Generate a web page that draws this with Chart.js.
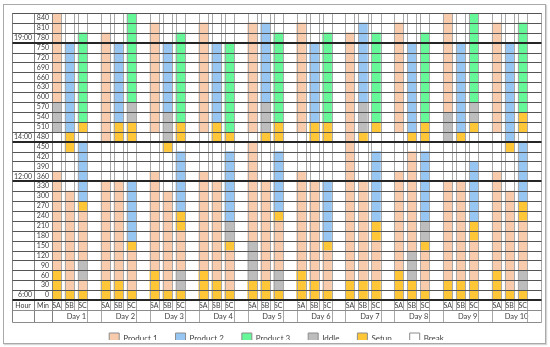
<!DOCTYPE html>
<html>
<head>
<meta charset="utf-8">
<script src="https://cdn.jsdelivr.net/npm/chart.js@4/dist/chart.umd.min.js"></script>
<style>
  html, body { margin: 0; padding: 0; background: #fff; overflow: hidden; }
  #wrap { position: relative; width: 550px; height: 347px; }
  #frame { position: absolute; left: 3px; top: 4px; width: 541px; height: 338px; border: 1px solid #a9a9a9; box-shadow: 1px 1px 1px #d6d6d6; }
  #gantt { position: absolute; left: 0; top: 0; }
</style>
</head>
<body>
<div id="wrap"><div id="frame"></div><canvas id="gantt" width="550" height="347"></canvas></div>
<script>
// categories
var days = ['Day 1', 'Day 2', 'Day 3', 'Day 4', 'Day 5', 'Day 6', 'Day 7', 'Day 8', 'Day 9', 'Day 10'];
var stations = ['SA', 'SB', 'SC'];

// row labels (minutes after 6:00) and hour marks
var rowStarts = [0, 30, 60, 90, 120, 150, 180, 210, 240, 270, 300, 330, 360, 390, 420, 450, 480, 510, 540, 570, 600, 630, 660, 690, 720, 750, 780, 810, 840];
var dayEnd = 870;
var slotMinutes = 30;
var hourMinutes = [0, 360, 480, 780];
var hourLabels = ['6:00', '12:00', '14:00', '19:00'];

// activities
var activityCodes = ['P', 'B', 'G', 'I', 'S', '-'];
var activityNames = ['Product 1', 'Product 2', 'Product 3', 'Iddle', 'Setup', 'Break'];

// schedule per station, one entry per day, runs of 30 min slots from 6:00 upward
var scheduleSA = [
    'S3 P10 -4 I3 P9',
    'S2 P10 -4 P11 -2',
    'S3 P10 -4 P11 -1',
    'S3 P10 -4 P11 -1',
    'S2 I4 P10 -1 P11 -1',
    'S3 P10 -4 P11 -1',
    'S2 P25 -2',
    'S3 P10 -4 P11 -1',
    'S2 P10 -4 I3 P10',
    'S3 P10 -4 P11 -1'
];
var scheduleSB = [
    'S1 P10 -4 S2 B9 -3',
    'S2 P10 -4 S2 B8 -3',
    'S1 P10 -4 S1 I3 B7 -3',
    'S2 P10 -4 S2 B8 -3',
    'S2 P10 -4 S1 I3 B8 -1',
    'S2 P10 -4 S2 B8 -3',
    'S2 P10 -4 S1 I3 B8 -1',
    'S2 I3 P10 -1 S1 B9 -3',
    'S2 P10 -4 S1 B9 -3',
    'S1 P10 -4 S1 B10 -3'
];
var scheduleSC = [
    'S1 P1 I2 P5 S1 B6 -1 S1 G9 -2',
    'S1 P4 S1 B6 -4 S2 I2 G9',
    'S1 I2 P4 S2 B6 -1 S2 G9 -2',
    'S1 P4 S1 I2 B7 -1 S1 G9 -3',
    'S1 I2 P5 S1 B6 -1 S2 G9 -2',
    'S1 P4 S1 B6 -4 S2 G9 -2',
    'S2 P4 S2 B7 -2 S1 G9 -2',
    'S1 P4 S1 I2 B7 -1 S2 G9 -2',
    'S2 P4 S2 B6 -3 S1 I2 G9',
    'S1 I2 P5 S2 B6 -1 S2 G9 -1'
];

// layout of one day column (fractions of a day)
var cellEdges = [0, 0.186, 0.266, 0.452, 0.532, 0.718];
var stationCenters = [0.093, 0.359, 0.625];
var colors = ['#F8CBAD', '#97C6F2', '#66F799', '#BDBDBD', '#FFC737', '#FFFFFF'];
var legendGap = 18;

var datasets = activityCodes.map(function(code, i) {
    return {
        label: activityNames[i],
        data: [],
        backgroundColor: colors[i],
        borderWidth: 0,
        borderSkipped: false,
        barThickness: 9,
        grouped: false
    };
});

[scheduleSA, scheduleSB, scheduleSC].forEach(function(sched, s) {
    sched.forEach(function(runs, d) {
        var start = 0;
        runs.split(' ').forEach(function(r) {
            var n = parseInt(r.slice(1), 10);
            var idx = activityCodes.indexOf(r.charAt(0));
            datasets[idx].data.push({
                x: d + stationCenters[s],
                y: [start * slotMinutes, (start + n) * slotMinutes]
            });
            start += n;
        });
    });
});

Chart.defaults.font.family = "Lato, 'Open Sans', sans-serif";
Chart.defaults.color = '#404040';

// legend: fixed height, wide item spacing, items sit 11px below its top
var legendHeight = {
    id: 'legendHeight',
    beforeInit: function(chart) {
        var fit = chart.legend.fit;
        var draw = chart.legend.draw;
        chart.legend.fit = function() {
            fit.call(this);
            this.height = 25;
        };
        chart.legend.draw = function() {
            this.ctx.save();
            this.ctx.translate(0, 11 - legendGap);
            draw.call(this);
            this.ctx.restore();
        };
    }
};

function line(ctx, x1, y1, x2, y2) {
    ctx.beginPath();
    ctx.moveTo(x1, y1);
    ctx.lineTo(x2, y2);
    ctx.stroke();
}

var tableLines = {
    id: 'tableLines',
    afterDatasetsDraw: function(chart) {
        var ctx = chart.ctx;
        var xs = chart.scales.x, ys = chart.scales.y, hs = chart.scales.yh;
        var area = chart.chartArea;
        var left = Math.round(hs.left) + 0.5;
        var right = Math.round(area.right) + 0.5;
        var top = area.top;
        var midRow = Math.round(chart.scales.x.bottom) + 0.5;
        var bottomRow = Math.round(chart.scales.xd.bottom) + 0.5;
        ctx.save();
        ctx.lineWidth = 1;
        // day columns
        ctx.strokeStyle = '#a8a8a8';
        days.forEach(function(day, d) {
            cellEdges.forEach(function(f, j) {
                var x = Math.round(xs.getPixelForValue(d + f)) + 0.5;
                var end = (j === 0 || j === cellEdges.length - 1) ? bottomRow : midRow;
                line(ctx, x, top, x, end);
            });
        });
        line(ctx, right, top, right, bottomRow);
        // hour and min columns
        ctx.strokeStyle = '#808080';
        [hs.left, hs.right, ys.right].forEach(function(v) {
            var x = Math.round(v) + 0.5;
            line(ctx, x, top, x, bottomRow);
        });
        // rows
        rowStarts.concat([dayEnd]).forEach(function(v) {
            var y = ys.getPixelForValue(v);
            if (hourMinutes.indexOf(v) >= 0) {
                ctx.strokeStyle = '#262626';
                ctx.lineWidth = 2;
                y = Math.round(y);
            } else {
                ctx.strokeStyle = '#555555';
                ctx.lineWidth = 1;
                y = Math.round(y) + 0.5;
            }
            line(ctx, left, y, right, y);
        });
        ctx.strokeStyle = '#8c8c8c';
        ctx.lineWidth = 1;
        line(ctx, left, midRow, right, midRow);
        line(ctx, left, bottomRow, right, bottomRow);
        // header texts
        ctx.fillStyle = '#404040';
        ctx.font = "7px Lato, 'Open Sans', sans-serif";
        ctx.textAlign = 'center';
        ctx.textBaseline = 'middle';
        var ty = (area.bottom + xs.bottom) / 2 + 0.5;
        ctx.fillText('Hour', (hs.left + hs.right) / 2, ty);
        ctx.fillText('Min', (ys.left + ys.right) / 2, ty);
        ctx.restore();
    }
};

var rowHeight = (300 - 13) / rowStarts.length;

new Chart(document.getElementById('gantt'), {
    type: 'bar',
    data: { datasets: datasets },
    options: {
        responsive: false,
        animation: false,
        layout: { padding: { left: 12, right: 9, top: 13, bottom: 0 } },
        plugins: {
            tooltip: { enabled: false },
            legend: {
                position: 'bottom',
                onClick: null,
                labels: {
                    boxWidth: 10,
                    boxHeight: 10,
                    padding: legendGap,
                    color: '#404040',
                    font: { size: 8 },
                    generateLabels: function(chart) {
                        var items = Chart.defaults.plugins.legend.labels.generateLabels(chart);
                        items.forEach(function(it) {
                            it.strokeStyle = '#8c8c8c';
                            it.lineWidth = 1;
                        });
                        return items;
                    }
                }
            }
        },
        scales: {
            x: {
                type: 'linear',
                min: 0,
                max: days.length,
                offset: false,
                weight: 1,
                grid: { display: false, drawTicks: false, offset: false },
                border: { display: false },
                afterBuildTicks: function(axis) {
                    var t = [];
                    days.forEach(function(day, d) {
                        stationCenters.forEach(function(c) { t.push({ value: d + c }); });
                    });
                    axis.ticks = t;
                },
                afterFit: function(axis) { axis.height = 10; },
                ticks: {
                    autoSkip: false,
                    maxRotation: 0,
                    padding: 2,
                    font: { size: 7 },
                    callback: function(v, i) { return stations[i % 3]; }
                }
            },
            xd: {
                type: 'linear',
                position: 'bottom',
                min: 0,
                max: days.length,
                offset: false,
                weight: 2,
                grid: { display: false, drawTicks: false, offset: false },
                border: { display: false },
                afterBuildTicks: function(axis) {
                    axis.ticks = days.map(function(day, d) { return { value: d + 0.5 }; });
                },
                afterFit: function(axis) { axis.height = 12; },
                ticks: {
                    autoSkip: false,
                    maxRotation: 0,
                    padding: 2,
                    font: { size: 7.5 },
                    callback: function(v, i) { return days[i]; }
                }
            },
            y: {
                type: 'linear',
                position: 'left',
                min: 0,
                max: dayEnd,
                weight: 1,
                grid: { display: false, drawTicks: false },
                border: { display: false },
                afterBuildTicks: function(axis) {
                    axis.ticks = rowStarts.concat([dayEnd]).map(function(v) { return { value: v }; });
                },
                afterFit: function(axis) { axis.width = 18; },
                ticks: {
                    autoSkip: false,
                    padding: 3,
                    labelOffset: -rowHeight / 2,
                    font: { size: 7 },
                    callback: function(v) { return v < dayEnd ? String(v) : ''; }
                }
            },
            yh: {
                type: 'linear',
                position: 'left',
                min: 0,
                max: dayEnd,
                weight: 2,
                grid: { display: false, drawTicks: false },
                border: { display: false },
                afterBuildTicks: function(axis) {
                    axis.ticks = rowStarts.concat([dayEnd]).map(function(v) { return { value: v }; });
                },
                afterFit: function(axis) { axis.width = 22; },
                ticks: {
                    autoSkip: false,
                    padding: 2,
                    labelOffset: -rowHeight / 2,
                    font: { size: 7 },
                    callback: function(v) {
                        var i = hourMinutes.indexOf(v);
                        return i >= 0 ? hourLabels[i] : '';
                    }
                }
            }
        }
    },
    plugins: [legendHeight, tableLines]
});
</script>
</body>
</html>
